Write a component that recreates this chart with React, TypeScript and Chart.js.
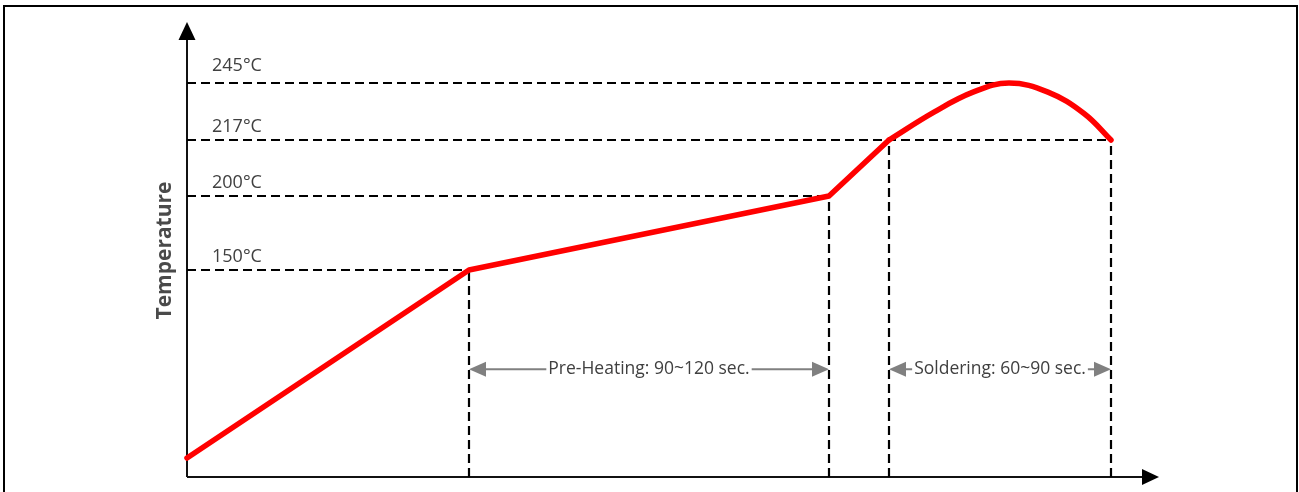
import React, { useEffect, useRef } from "react";
import { Chart, registerables, LinearScale } from "chart.js";

Chart.register(...registerables);

// ---- data (time in seconds, temperature in °C) ----
const rampTimes = [0, 94, 214, 234];
const rampTemps = [25, 150, 200, 217];
const peakTimes = [234, 249, 262, 274, 287, 299, 308];
const peakTemps = [217, 230.7, 240.5, 245, 240.5, 230, 217];

const levelTemps = [150, 200, 217, 245];
const levelLabels = ["150°C", "200°C", "217°C", "245°C"];
const levelEndTimes = [94, 214, 308, 274];

const dropTimes = [94, 214, 234, 308];
const dropTemps = [150, 200, 217, 217];

const spanLabels = ["Pre-Heating: 90~120 sec.", "Soldering: 60~90 sec."];
const spanStarts = [94, 234];
const spanEnds = [214, 308];
const spanTemp = 84;

const yTitle = "Temperature";
const timeMax = 324;

// schematic (non-linear) temperature axis breakpoints
const axisTemps = [0, 25, 150, 200, 217, 245];
const axisHeights = [0, 19, 207, 281, 337, 394];
const heightMax = 455;

function tempToHeight(v: number): number {
  const n = axisTemps.length;
  let i = 0;
  while (i < n - 2 && v > axisTemps[i + 1]) i++;
  const t0 = axisTemps[i], t1 = axisTemps[i + 1];
  const h0 = axisHeights[i], h1 = axisHeights[i + 1];
  return h0 + ((v - t0) / (t1 - t0)) * (h1 - h0);
}

class SchematicScale extends LinearScale {
  static id = "schematic";
  static defaults = LinearScale.defaults;
  getPixelForValue(value: any, index?: number) {
    if (value === null || value === undefined) return NaN;
    return super.getPixelForValue(tempToHeight(value), index);
  }
}
Chart.register(SchematicScale as any);

const TEXT = "#404040";
const FONT = "'Open Sans', 'Noto Sans', sans-serif";

const decorPlugin = {
  id: "decor",
  beforeDatasetsDraw(chart: any) {
    const { ctx, chartArea } = chart;
    const { left, right, top, bottom } = chartArea;
    ctx.save();
    // frame
    ctx.strokeStyle = "#000";
    ctx.lineWidth = 2;
    ctx.strokeRect(4, 6, 1293, 520);
    // axes
    ctx.strokeStyle = "#111";
    ctx.fillStyle = "#000";
    ctx.lineWidth = 2;
    ctx.beginPath();
    ctx.moveTo(left, bottom);
    ctx.lineTo(left, top + 16);
    ctx.moveTo(left, bottom);
    ctx.lineTo(right - 16, bottom);
    ctx.stroke();
    ctx.beginPath();
    ctx.moveTo(left, top);
    ctx.lineTo(left - 8.5, top + 18);
    ctx.lineTo(left + 8.5, top + 18);
    ctx.closePath();
    ctx.fill();
    ctx.beginPath();
    ctx.moveTo(right, bottom);
    ctx.lineTo(right - 17, bottom - 8);
    ctx.lineTo(right - 17, bottom + 8);
    ctx.closePath();
    ctx.fill();
    ctx.restore();
  },
  afterDatasetsDraw(chart: any) {
    const { ctx, chartArea, scales } = chart;
    const xs = scales.x, ys = scales.y;
    ctx.save();
    // level labels
    ctx.fillStyle = TEXT;
    ctx.font = `18px ${FONT}`;
    ctx.textAlign = "left";
    ctx.textBaseline = "alphabetic";
    levelLabels.forEach((lab, i) => {
      const y = ys.getPixelForValue(levelTemps[i]);
      const lift = levelTemps[i] === 245 ? 12 : 8;
      ctx.fillText(lab, chartArea.left + 25, y - lift);
    });
    // y title
    ctx.save();
    ctx.translate(165, (chartArea.top + chartArea.bottom) / 2 + 1);
    ctx.rotate(-Math.PI / 2);
    ctx.font = `bold 21px ${FONT}`;
    ctx.textAlign = "center";
    ctx.textBaseline = "middle";
    ctx.fillStyle = "#4a4a4a";
    ctx.fillText(yTitle, 0, 0);
    ctx.restore();
    // spans
    const y = ys.getPixelForValue(spanTemp);
    spanLabels.forEach((lab, i) => {
      const x1 = xs.getPixelForValue(spanStarts[i]);
      const x2 = xs.getPixelForValue(spanEnds[i]);
      const head = 17, half = 7.5;
      ctx.strokeStyle = "#808080";
      ctx.fillStyle = "#808080";
      ctx.lineWidth = 2;
      ctx.beginPath();
      ctx.moveTo(x1 + head, y);
      ctx.lineTo(x2 - head, y);
      ctx.stroke();
      ctx.beginPath();
      ctx.moveTo(x1, y);
      ctx.lineTo(x1 + head, y - half);
      ctx.lineTo(x1 + head, y + half);
      ctx.closePath();
      ctx.fill();
      ctx.beginPath();
      ctx.moveTo(x2, y);
      ctx.lineTo(x2 - head, y - half);
      ctx.lineTo(x2 - head, y + half);
      ctx.closePath();
      ctx.fill();
      ctx.font = `17.5px ${FONT}`;
      const w = ctx.measureText(lab).width;
      const cx = (x1 + x2) / 2;
      ctx.fillStyle = "#fff";
      ctx.fillRect(cx - w / 2 - 2, y - 10, w + 4, 20);
      ctx.fillStyle = TEXT;
      ctx.textAlign = "center";
      ctx.textBaseline = "middle";
      ctx.fillText(lab, cx, y);
    });
    ctx.restore();
  },
};

export default function App() {
  const ref = useRef<HTMLCanvasElement | null>(null);
  useEffect(() => {
    if (!ref.current) return;
    const red = {
      borderColor: "#ff0000",
      borderWidth: 5.5,
      borderCapStyle: "round" as const,
      borderJoinStyle: "round" as const,
      pointRadius: 0,
      fill: false,
      clip: false as const,
    };
    const guide = {
      borderColor: "#000",
      borderWidth: 2.2,
      borderDash: [9, 5],
      pointRadius: 0,
      fill: false,
      tension: 0,
      clip: false as const,
    };
    const datasets: any[] = [
      { ...red, label: "ramp", tension: 0, data: rampTimes.map((t, i) => ({ x: t, y: rampTemps[i] })) },
      {
        ...red,
        label: "peak",
        tension: 0.4,
        data: peakTimes.map((t, i) => ({ x: t, y: peakTemps[i] })),
      },
      ...levelTemps.map((T, i) => ({
        ...guide,
        label: levelLabels[i],
        data: [
          { x: 0, y: T },
          { x: levelEndTimes[i], y: T },
        ],
      })),
      ...dropTimes.map((t, i) => ({
        ...guide,
        label: "drop" + i,
        data: [
          { x: t, y: 0 },
          { x: t, y: dropTemps[i] },
        ],
      })),
    ];
    const chart = new Chart(ref.current, {
      type: "line",
      data: { datasets },
      options: {
        animation: false,
        responsive: true,
        maintainAspectRatio: false,
        events: [],
        layout: { padding: { left: 187, right: 140, top: 22, bottom: 15 } },
        plugins: { legend: { display: false }, tooltip: { enabled: false } },
        scales: {
          x: { type: "linear", min: 0, max: timeMax, display: false },
          y: { type: "schematic" as any, min: 0, max: heightMax, display: false },
        },
      },
      plugins: [decorPlugin],
    });
    return () => chart.destroy();
  }, []);
  return (
    <div
      style={{
        position: "fixed",
        left: 0,
        top: 0,
        width: 1299,
        height: 492,
        background: "#fff",
      }}
    >
      <canvas ref={ref} />
    </div>
  );
}
